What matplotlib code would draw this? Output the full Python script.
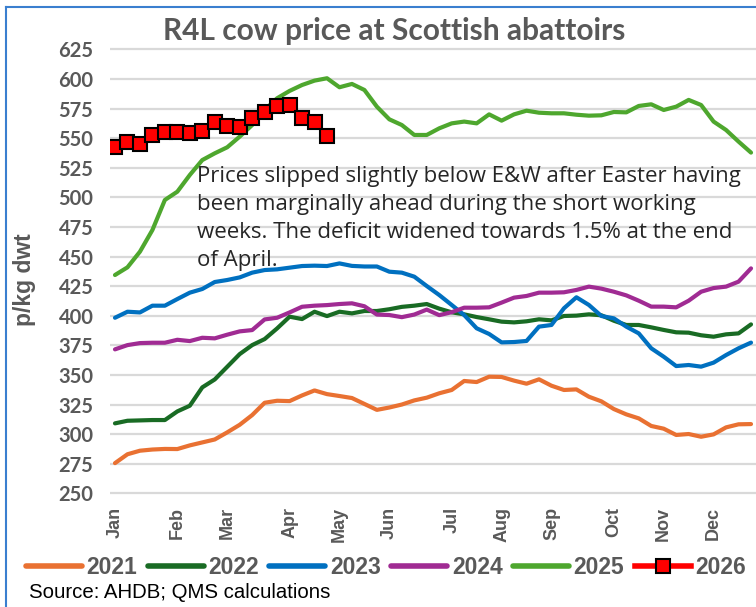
import matplotlib
matplotlib.use('Agg')
import matplotlib.pyplot as plt
from matplotlib.lines import Line2D
import numpy as np

# ---------------- data ----------------
months = ['Jan', 'Feb', 'Mar', 'Apr', 'May', 'Jun', 'Jul', 'Aug', 'Sep', 'Oct', 'Nov', 'Dec']
month_weeks = [0, 5, 9, 14, 18, 22, 27, 31, 35, 40, 44, 48]
yticks = list(range(250, 626, 25))

y2021 = [275.5, 283, 286, 287, 287.5, 287.4, 290.5, 293, 295.5, 301.5,
         307.9, 316.1, 326.5, 328.2, 327.9, 332.7, 336.9, 333.8, 332.2, 330.5,
         325.5, 320.5, 322.5, 325, 328.5, 330.8, 334.5, 337.3, 344.9, 344,
         348.5, 348.3, 345.2, 342.6, 346.3, 340.9, 337.3, 337.8, 331.6, 327.7,
         321.2, 316.7, 313.3, 306.9, 304.6, 299.3, 300.1, 297.8, 299.8, 305.7,
         308.3, 308.5]
y2022 = [309.1, 311.3, 311.6, 311.9, 311.9, 319.2, 324, 339.5, 346.2, 356.9,
         367.6, 375.2, 380.3, 389.3, 399.2, 397.2, 403.4, 399.7, 403.4, 402,
         404, 404, 405.5, 407.5, 408.5, 409.9, 406, 402.9, 401.2, 398.9,
         397, 395, 394.4, 395.3, 397, 396.1, 399.8, 400.1, 401.2, 400.4,
         395.8, 392.2, 392.2, 390.2, 388, 386, 385.7, 383.5, 382.3, 384.3,
         385.1, 392.7]
y2023 = [398.3, 403.4, 402.8, 408.5, 408.5, 414.1, 419.5, 422.6, 428.5, 430.2,
         432.4, 436.4, 438.6, 439.2, 440.6, 442, 442.3, 442, 444.2, 442.1,
         441.6, 441.6, 437.2, 436.4, 433, 425.1, 417.5, 409.1, 400.6, 389.4,
         384.6, 377.5, 377.8, 378.7, 390.8, 392.2, 406.3, 415.6, 409.1, 399.8,
         397.8, 390.8, 385.1, 372.5, 365.4, 357.5, 358.4, 357, 360.4, 366.8,
         372.5, 377.3]
y2024 = [371.6, 375.2, 376.9, 377.2, 377.2, 379.7, 378.6, 381.4, 380.9, 384,
         386.8, 387.9, 396.9, 398.3, 402.8, 407.6, 408.5, 409, 409.9, 410.5,
         408, 401, 400.6, 398.8, 401, 405.2, 400.5, 403, 406.8, 406.8,
         407.1, 411.1, 415.3, 416.7, 419.5, 419.5, 419.8, 421.8, 424.6, 422.9,
         420.3, 417.2, 412.7, 407.7, 407.7, 407.1, 412.7, 420.3, 423.4, 424.6,
         428.8, 440]
y2025 = [434.4, 440.9, 454.1, 472.4, 497.8, 504.8, 518.9, 531.5, 537.2, 542.3,
         551.3, 561.1, 573.8, 583.7, 589.9, 594.9, 598.6, 600.6, 593, 595.8,
         590.7, 576.6, 565.9, 561.1, 552.7, 552.7, 558.3, 562.5, 564, 562.5,
         570.1, 564.8, 570.1, 573.2, 571.5, 571, 571, 569.8, 569, 569.3,
         572.1, 571.8, 577.2, 578.6, 573.8, 576.6, 582.3, 578, 564, 556.9,
         547.1, 537.8]
y2026 = [542.8, 547.0, 545.3, 552.4, 555.2, 555.2, 554.6, 556.3, 563.9, 560.5,
         559.7, 567.1, 572.4, 577.4, 578.3, 567.1, 563.9, 551.8]

series = [('2021', y2021, '#E97132'), ('2022', y2022, '#196B24'),
          ('2023', y2023, '#0070C0'), ('2024', y2024, '#A02B93'),
          ('2025', y2025, '#4EA72E')]

title = 'R4L cow price at Scottish abattoirs'
note = ('Prices slipped slightly below E&W after Easter having\n'
        'been marginally ahead during the short working\n'
        'weeks. The deficit widened towards 1.5% at the end\n'
        'of April.')
source = 'Source: AHDB; QMS calculations'

# ---------------- figure ----------------
W, H = 756, 607
fig = plt.figure(figsize=(W / 100, H / 100), dpi=100)
L, R = 110, 756
top_px, bot_px = 47.0, 495.7
ax = fig.add_axes([L / W, 1 - bot_px / H, (R - L) / W, (bot_px - top_px) / H])

GRAY = '#595959'

for name, vals, col in series:
    ax.plot(np.arange(len(vals)), vals, color=col, lw=3, label=name,
            solid_capstyle='round', solid_joinstyle='round')
ax.plot(np.arange(len(y2026)), y2026, color='#FF0000', lw=2, marker='s',
        ms=9.5, mfc='#FF0000', mec='black', mew=1.5, label='2026')

ax.set_xlim(-0.4, 51.4)
ax.set_ylim(248, 627)
ax.set_yticks(yticks)
ax.set_yticklabels([str(v) for v in yticks], fontfamily='Lato',
                   fontweight='bold', fontsize=14.5, color=GRAY)
ax.set_xticks(month_weeks)
ax.set_xticklabels(months, rotation=90, fontfamily='Liberation Sans',
                   fontweight='bold', fontsize=13, color=GRAY)
ax.tick_params(axis='both', length=0)
ax.tick_params(axis='y', pad=12)
ax.tick_params(axis='x', pad=8)
ax.yaxis.grid(True, color='#D9D9D9', lw=1.6)
ax.set_axisbelow(True)
for s in ax.spines.values():
    s.set_visible(False)

fig.text(25 / W, 1 - 280 / H, 'p/kg dwt', rotation=90, ha='center', va='center',
         fontfamily='Liberation Sans', fontweight='bold', fontsize=16.5, color=GRAY)

fig.text(394 / W, 1 - 40 / H, title, ha='center', va='baseline',
         fontfamily='Lato', fontweight='bold', fontsize=21.5, color=GRAY)

fig.text(197 / W, 1 - 166 / H, note, ha='left', va='top', fontfamily='Open Sans',
         fontsize=16, color='#262626', linespacing=1.44)

fig.text(29 / W, 1 - 598 / H, source, ha='left', va='baseline',
         fontfamily='Liberation Sans', fontsize=14.7, color='black')

handles, labels = ax.get_legend_handles_labels()
leg = fig.legend(handles, labels, ncol=6, loc='center',
                 bbox_to_anchor=(386 / W, 1 - 568 / H), frameon=False,
                 prop={'family': 'Liberation Sans', 'weight': 'bold', 'size': 16.5},
                 labelcolor=GRAY, handlelength=2.45, handletextpad=0.2,
                 columnspacing=0.45, numpoints=1)
for lh in leg.get_lines():
    lh.set_linewidth(4)

# chart border (left and top edges visible)
fig.add_artist(Line2D([6 / W, 6 / W], [0, 1 - 7 / H], transform=fig.transFigure,
                      color='#3A7FCF', lw=1.5))
fig.add_artist(Line2D([6 / W, 1], [1 - 7 / H, 1 - 7 / H], transform=fig.transFigure,
                      color='#3A7FCF', lw=1.5))

fig.savefig('out.png', dpi=100)
